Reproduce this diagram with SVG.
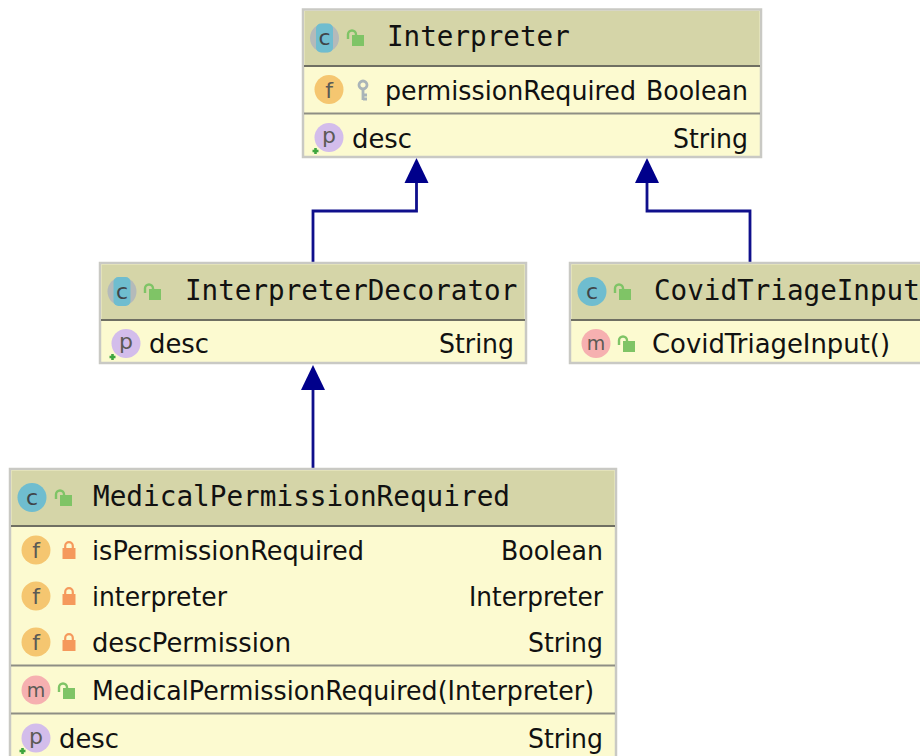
<svg xmlns="http://www.w3.org/2000/svg" width="920" height="756" viewBox="0 0 920 756">
<style>
.box{fill:#fcfad0;stroke:#c9c9c4;stroke-width:2.5}
.head{fill:#d5d5a8}
.sep{stroke:#6f6f62;stroke-width:2.2}
.sep2{stroke:#8e8e84;stroke-width:2.2}
.title{font-family:"DejaVu Sans Mono",monospace;font-size:27.6px;fill:#111}
.t{font-family:"DejaVu Sans","Liberation Sans",sans-serif;font-size:26.500px;fill:#111}
.r{text-anchor:end}
.ic{font-family:"DejaVu Sans",sans-serif;font-size:22px;text-anchor:middle;fill:#5c5a55}
.icm{font-size:19px}
.ic2{fill:#3f4448}
.conn{fill:none;stroke:#0f0f8c;stroke-width:2.8}
.arr{fill:#00008b}
.cc{fill:#6fbdcf}.cf{fill:#f5c670}.cp{fill:#d3bdeb}.cm{fill:#f6b0b0}
.cg{fill:#b4baba}
.dot{fill:none;stroke:#3ea53e;stroke-width:2.6}
</style>
<defs>
<g id="open"><rect x="0" y="0" width="12" height="11" fill="#7fc466"/><path d="M-4 4V-0.500a4 4 0 0 1 8 0V1" fill="none" stroke="#7fc466" stroke-width="2.400"/></g>
<g id="lock"><rect x="-6.500" y="-3" width="13" height="11" fill="#f5995c"/><path d="M-3.800 -3V-5a3.800 3.800 0 0 1 7.600 0V-3" fill="none" stroke="#f5995c" stroke-width="2.200"/></g>
<g id="key"><circle cx="0" cy="-5" r="4" fill="none" stroke="#a9b4b8" stroke-width="2.800"/><path d="M0 -1V10M0 5H4M0 9H4" fill="none" stroke="#a9b4b8" stroke-width="2.800"/></g>
<path id="tri" class="arr" d="M0 0L12 25H-12Z"/>
<path id="plus" class="dot" d="M-3 0H3M0 -3V3"/>
</defs>

<g id="connectors">
<path class="conn" d="M313 263V211H416.500V180"/>
<use href="#tri" x="416.500" y="158"/>
<path class="conn" d="M750 263V211H647V180"/>
<use href="#tri" x="647" y="158"/>
<path class="conn" d="M313 469V385"/>
<use href="#tri" x="313" y="365"/>
</g>

<g id="node-interpreter">
<rect class="box" x="303" y="9.500" width="458" height="147.500"/>
<rect class="head" x="304.500" y="11" width="455" height="55"/>
<path class="sep" d="M304 66H760"/><path class="sep2" d="M304 113.500H760"/>
<circle class="cg" cx="324.500" cy="38" r="14.500"/><rect class="cc" x="316" y="23.500" width="17" height="29" rx="5"/>
<text class="ic ic2" x="324.500" y="45">c</text>
<use href="#open" x="352" y="35"/>
<text class="title" x="387" y="46">Interpreter</text>
<circle class="cf" cx="329" cy="89.500" r="14.500"/>
<text class="ic" x="329" y="97.500">f</text>
<use href="#key" x="363" y="90"/>
<text class="t" x="385" y="99.500" textLength="251" lengthAdjust="spacingAndGlyphs">permissionRequired</text>
<text class="t r" x="748" y="99.500" textLength="102" lengthAdjust="spacingAndGlyphs">Boolean</text>
<circle class="cp" cx="329" cy="137.500" r="14.500"/>
<text class="ic" x="329" y="143">p</text>
<use href="#plus" x="315.500" y="151"/>
<text class="t" x="352" y="147.500" textLength="60" lengthAdjust="spacingAndGlyphs">desc</text>
<text class="t r" x="748" y="147.500" textLength="75" lengthAdjust="spacingAndGlyphs">String</text>
</g>

<g id="node-decorator">
<rect class="box" x="100" y="263" width="426" height="100"/>
<rect class="head" x="101.500" y="264.500" width="423" height="55"/>
<path class="sep" d="M101 320H525"/>
<circle class="cg" cx="122" cy="291.500" r="14.500"/><rect class="cc" x="113.500" y="277" width="17" height="29" rx="5"/>
<text class="ic ic2" x="122" y="298.500">c</text>
<use href="#open" x="149" y="289"/>
<text class="title" x="185" y="300">InterpreterDecorator</text>
<circle class="cp" cx="126" cy="343.500" r="14.500"/>
<text class="ic" x="126" y="349">p</text>
<use href="#plus" x="112.500" y="357"/>
<text class="t" x="149" y="353" textLength="60" lengthAdjust="spacingAndGlyphs">desc</text>
<text class="t r" x="514" y="353" textLength="75" lengthAdjust="spacingAndGlyphs">String</text>
</g>

<g id="node-covid">
<rect class="box" x="570" y="263" width="360" height="100"/>
<rect class="head" x="571.500" y="264.500" width="350" height="55"/>
<path class="sep" d="M571 320H920"/>
<circle class="cc" cx="592" cy="291.500" r="14.500"/>
<text class="ic ic2" x="592" y="298.500">c</text>
<use href="#open" x="619" y="289"/>
<text class="title" x="654" y="300">CovidTriageInput</text>
<circle class="cm" cx="596" cy="343.500" r="14.500"/>
<text class="ic icm" x="596" y="350">m</text>
<use href="#open" x="623" y="341"/>
<text class="t" x="652" y="353" textLength="238" lengthAdjust="spacingAndGlyphs">CovidTriageInput()</text>
</g>

<g id="node-medical">
<rect class="box" x="10" y="469" width="606" height="300"/>
<rect class="head" x="11.500" y="470.500" width="603" height="55"/>
<path class="sep" d="M11 526H615"/><path class="sep2" d="M11 665.500H615"/><path class="sep2" d="M11 713.500H615"/>
<circle class="cc" cx="32" cy="497.500" r="14.500"/>
<text class="ic ic2" x="32" y="504.500">c</text>
<use href="#open" x="60" y="495"/>
<text class="title" x="93" y="506" textLength="417" lengthAdjust="spacingAndGlyphs">MedicalPermissionRequired</text>
<circle class="cf" cx="36" cy="550" r="14.500"/><text class="ic" x="36" y="558">f</text>
<use href="#lock" x="69" y="551"/>
<text class="t" x="92" y="560" textLength="272" lengthAdjust="spacingAndGlyphs">isPermissionRequired</text>
<text class="t r" x="603" y="560" textLength="102" lengthAdjust="spacingAndGlyphs">Boolean</text>
<circle class="cf" cx="36" cy="596" r="14.500"/><text class="ic" x="36" y="604">f</text>
<use href="#lock" x="69" y="597"/>
<text class="t" x="92" y="605.500" textLength="135" lengthAdjust="spacingAndGlyphs">interpreter</text>
<text class="t r" x="603" y="605.500" textLength="134" lengthAdjust="spacingAndGlyphs">Interpreter</text>
<circle class="cf" cx="36" cy="642" r="14.500"/><text class="ic" x="36" y="650">f</text>
<use href="#lock" x="69" y="643"/>
<text class="t" x="92" y="651.500" textLength="199" lengthAdjust="spacingAndGlyphs">descPermission</text>
<text class="t r" x="603" y="651.500" textLength="75" lengthAdjust="spacingAndGlyphs">String</text>
<circle class="cm" cx="36" cy="690" r="14.500"/><text class="ic icm" x="36" y="696.500">m</text>
<use href="#open" x="63" y="688"/>
<text class="t" x="92" y="699.500" textLength="502" lengthAdjust="spacingAndGlyphs">MedicalPermissionRequired(Interpreter)</text>
<circle class="cp" cx="36" cy="738" r="14.500"/><text class="ic" x="36" y="743.500">p</text>
<use href="#plus" x="22.500" y="751"/>
<text class="t" x="59" y="747.500" textLength="60" lengthAdjust="spacingAndGlyphs">desc</text>
<text class="t r" x="603" y="747.500" textLength="75" lengthAdjust="spacingAndGlyphs">String</text>
</g>
</svg>
